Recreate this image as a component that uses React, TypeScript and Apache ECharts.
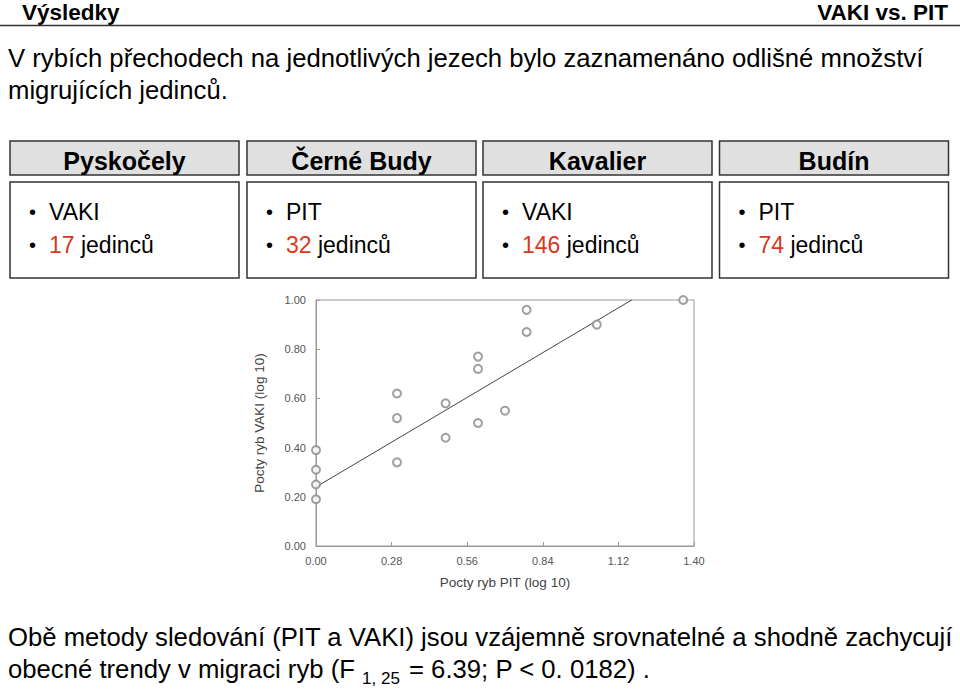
import React, { useEffect, useRef } from "react";
import * as echarts from "echarts";

const pitLog = [0, 0, 0, 0, 0.3, 0.3, 0.3, 0.48, 0.48, 0.6, 0.6, 0.6, 0.7, 0.78, 0.78, 1.04, 1.36];
const vakiLog = [0.39, 0.31, 0.25, 0.19, 0.62, 0.52, 0.34, 0.58, 0.44, 0.77, 0.72, 0.5, 0.55, 0.96, 0.87, 0.9, 1.0];
const fitIntercept = 0.24;
const fitSlope = 0.65;
const fitRange = [0, 1.17];

const sites = ["Pyskočely", "Černé Budy", "Kavalier", "Budín"];
const methods = ["VAKI", "PIT", "VAKI", "PIT"];
const counts = [17, 32, 146, 74];

const xTicks = { min: 0, max: 1.4, interval: 0.28 };
const yTicks = { min: 0, max: 1, interval: 0.2 };

const FONT = "'Liberation Sans', Arial, sans-serif";

export default function App() {
  const ref = useRef<HTMLDivElement>(null);
  useEffect(() => {
    if (!ref.current) return;
    const chart = echarts.init(ref.current, null, { renderer: "svg" });
    const boxX = [10, 247, 483, 719.5];
    const boxW = 229;
    const graphics: any[] = [];
    // header
    graphics.push({ type: "text", x: 22, y: 12, style: { text: "Výsledky", font: `bold 22.5px ${FONT}`, fill: "#000", textVerticalAlign: "middle" } });
    graphics.push({ type: "text", x: 948, y: 12, style: { text: "VAKI vs. PIT", font: `bold 22.5px ${FONT}`, fill: "#000", textAlign: "right", textVerticalAlign: "middle" } });
    graphics.push({ type: "line", shape: { x1: 0, y1: 25.5, x2: 960, y2: 25.5 }, style: { stroke: "#333", lineWidth: 1.5 } });
    graphics.push({ type: "text", x: 8, y: 58, style: { text: "V rybích přechodech na jednotlivých jezech bylo zaznamenáno odlišné množství", font: `25.7px ${FONT}`, fill: "#000", textVerticalAlign: "middle" } });
    graphics.push({ type: "text", x: 8, y: 90, style: { text: "migrujících jedinců.", font: `25.7px ${FONT}`, fill: "#000", textVerticalAlign: "middle" } });
    sites.forEach((s, i) => {
      const x = boxX[i];
      graphics.push({ type: "rect", shape: { x, y: 141, width: boxW, height: 34 }, style: { fill: "#e0e0e0", stroke: "#333", lineWidth: 1.5 } });
      graphics.push({ type: "text", x: x + boxW / 2, y: 161, style: { text: s, font: `bold 25px ${FONT}`, fill: "#000", textAlign: "center", textVerticalAlign: "middle" } });
      graphics.push({ type: "rect", shape: { x, y: 182, width: boxW, height: 96 }, style: { fill: "#fff", stroke: "#333", lineWidth: 1.5 } });
      graphics.push({ type: "text", x: x + 19, y: 212, style: { text: "•", font: `20px ${FONT}`, fill: "#000", textVerticalAlign: "middle" } });
      graphics.push({ type: "text", x: x + 39, y: 212, style: { text: methods[i], font: `23px ${FONT}`, fill: "#000", textVerticalAlign: "middle" } });
      graphics.push({ type: "text", x: x + 19, y: 245, style: { text: "•", font: `20px ${FONT}`, fill: "#000", textVerticalAlign: "middle" } });
      graphics.push({
        type: "text", x: x + 39, y: 245,
        style: {
          text: `{r|${counts[i]}}{b| jedinců}`,
          textVerticalAlign: "middle",
          rich: {
            r: { font: `23px ${FONT}`, fill: "#d9381e" },
            b: { font: `23px ${FONT}`, fill: "#000" },
          },
        },
      });
    });
    graphics.push({ type: "text", x: 8, y: 637, style: { text: "Obě metody sledování (PIT a VAKI) jsou vzájemně srovnatelné a shodně zachycují", font: `25.7px ${FONT}`, fill: "#000", textVerticalAlign: "middle" } });
    graphics.push({
      type: "text", x: 8, y: 667,
      style: {
        text: "{n|obecné trendy v migraci ryb (F }{s|1, 25}{n| = 6.39; P < 0. 0182) .}",
        textVerticalAlign: "middle",
        rich: {
          n: { font: `25.7px ${FONT}`, fill: "#000", verticalAlign: "bottom", lineHeight: 30 },
          s: { font: `17px ${FONT}`, fill: "#000", verticalAlign: "bottom", lineHeight: 30, padding: [0, 2, -5, 0] },
        },
      },
    });

    const fitData = fitRange.map((x) => [x, fitIntercept + fitSlope * x]);

    chart.setOption({
      animation: false,
      grid: { left: 316, top: 300, width: 378, height: 246, show: true, borderColor: "#999", borderWidth: 1 },
      xAxis: {
        type: "value", min: xTicks.min, max: xTicks.max, interval: xTicks.interval,
        name: "Pocty ryb PIT (log 10)", nameLocation: "middle", nameGap: 29,
        nameTextStyle: { fontFamily: FONT, fontSize: 13.5, color: "#444" },
        axisLine: { lineStyle: { color: "#999" } },
        axisTick: { inside: true, length: 4, lineStyle: { color: "#999" } },
        axisLabel: { fontFamily: FONT, fontSize: 11, color: "#555", margin: 9, formatter: (v: number) => v.toFixed(2) },
        splitLine: { show: false },
      },
      yAxis: {
        type: "value", min: yTicks.min, max: yTicks.max, interval: yTicks.interval,
        name: "Pocty ryb VAKI (log 10)", nameLocation: "middle", nameGap: 50,
        nameTextStyle: { fontFamily: FONT, fontSize: 13.5, color: "#444" },
        axisLine: { lineStyle: { color: "#999" } },
        axisTick: { inside: true, length: 4, lineStyle: { color: "#999" } },
        axisLabel: { fontFamily: FONT, fontSize: 11, color: "#555", margin: 10, formatter: (v: number) => v.toFixed(2) },
        splitLine: { show: false },
      },
      series: [
        {
          type: "scatter",
          data: pitLog.map((x, i) => [x, vakiLog[i]]),
          symbol: "emptyCircle",
          symbolSize: 8,
          itemStyle: { color: "#888", borderColor: "#888", borderWidth: 1 },
          clip: false,
          z: 3,
        },
        {
          type: "line",
          data: fitData,
          symbol: "none",
          lineStyle: { color: "#444", width: 1 },
          z: 2,
        },
      ],
      graphic: graphics,
    });
    return () => chart.dispose();
  }, []);
  return <div ref={ref} style={{ position: "fixed", left: 0, top: 0, width: 960, height: 690, background: "#fff" }} />;
}
